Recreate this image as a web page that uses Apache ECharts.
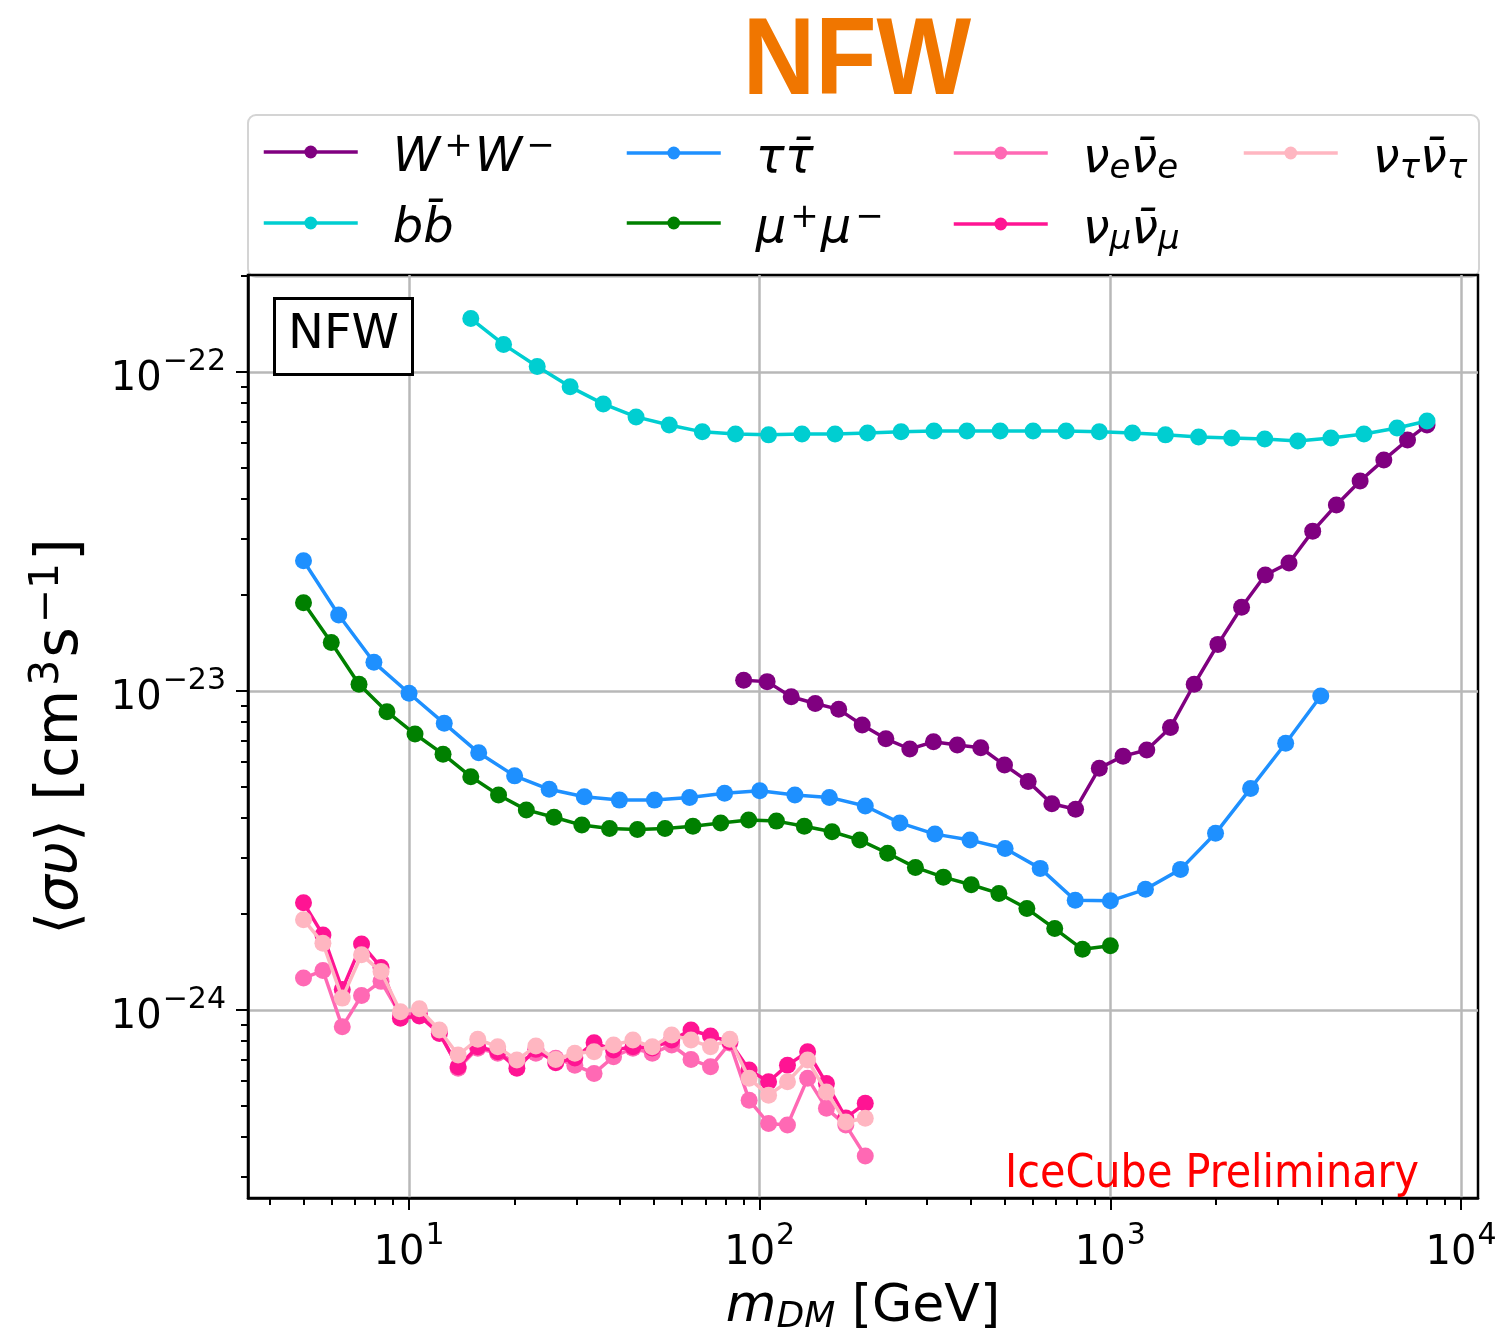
<!DOCTYPE html>
<html>
<head>
<meta charset="utf-8">
<title>NFW</title>
<script src="https://cdn.jsdelivr.net/npm/echarts@6/dist/echarts.min.js"></script>
<style>
  html, body { margin: 0; padding: 0; background: #fff; }
  #chart { width: 1496px; height: 1332px; }
</style>
</head>
<body>
<div id="chart"></div>
<script>
// dark matter masses (GeV) for each channel
const massWW = [90, 105, 123, 144, 168, 196, 229, 268, 313, 366, 427, 499, 583, 681, 796, 930, 1087, 1270, 1484, 1734, 2026, 2367, 2766, 3232, 3776, 4412, 5155, 6024, 7038, 8000];
const massBB = [15, 18.6, 23.2, 28.8, 35.8, 44.4, 55.2, 68.6, 85.3, 106, 132, 164, 203, 253, 314, 390, 485, 602, 748, 930, 1156, 1436, 1785, 2218, 2756, 3424, 4255, 5287, 6570, 8000];
const massTau = [5, 6.3, 7.94, 10, 12.6, 15.8, 20, 25.1, 31.6, 39.8, 50.1, 63.1, 79.4, 100, 126, 158, 200, 251, 316, 398, 501, 631, 794, 1000, 1259, 1585, 1995, 2512, 3162, 3981];
const massMu = [5, 6.0, 7.2, 8.65, 10.4, 12.5, 15.0, 18.0, 21.6, 25.9, 31.1, 37.3, 44.8, 53.7, 64.5, 77.4, 93.0, 111.6, 134, 160.8, 193, 231.7, 278, 334, 401, 481, 578, 694, 833, 1000];
const massNu = [5, 5.68, 6.45, 7.32, 8.32, 9.45, 10.7, 12.2, 13.8, 15.7, 17.9, 20.3, 23.0, 26.2, 29.7, 33.7, 38.3, 43.5, 49.4, 56.1, 63.7, 72.4, 82.2, 93.3, 106, 120, 137, 155, 176, 200];

// <sigma v> upper limits, in units of 1e-24 cm^3 s^-1
// (echarts' log axis rounds tick values to 10 decimals, so raw 1e-24 values lose their ticks)
const svWW = [10.8, 10.7, 9.59, 9.14, 8.76, 7.82, 7.08, 6.58, 6.93, 6.77, 6.64, 5.86, 5.20, 4.43, 4.26, 5.73, 6.25, 6.53, 7.69, 10.5, 14.0, 18.3, 23.1, 25.2, 31.7, 38.3, 45.5, 53.0, 61.2, 68.2];
const svBB = [147, 122, 104, 89.8, 79.4, 72.3, 68.2, 64.9, 63.9, 63.5, 63.9, 63.9, 64.4, 64.9, 65.3, 65.3, 65.3, 65.3, 65.3, 64.9, 64.4, 63.5, 62.5, 62.1, 61.6, 60.8, 62.1, 63.9, 66.7, 70.2];
const svTau = [25.6, 17.3, 12.3, 9.84, 7.92, 6.40, 5.42, 4.92, 4.66, 4.55, 4.55, 4.64, 4.78, 4.87, 4.72, 4.64, 4.36, 3.86, 3.56, 3.41, 3.21, 2.78, 2.21, 2.20, 2.39, 2.76, 3.58, 4.95, 6.86, 9.65];
const svMu = [18.9, 14.2, 10.5, 8.61, 7.33, 6.34, 5.39, 4.72, 4.24, 4.02, 3.80, 3.71, 3.68, 3.71, 3.77, 3.86, 3.94, 3.91, 3.77, 3.62, 3.41, 3.10, 2.80, 2.61, 2.47, 2.32, 2.08, 1.80, 1.55, 1.59];
const svNuE = [1.26, 1.33, 0.886, 1.11, 1.23, 0.965, 0.977, 0.855, 0.657, 0.759, 0.732, 0.684, 0.732, 0.706, 0.672, 0.633, 0.714, 0.759, 0.732, 0.777, 0.700, 0.664, 0.788, 0.522, 0.441, 0.436, 0.611, 0.492, 0.436, 0.349];
const svNuMu = [2.17, 1.72, 1.16, 1.61, 1.36, 0.942, 0.958, 0.845, 0.664, 0.767, 0.740, 0.657, 0.753, 0.684, 0.707, 0.790, 0.749, 0.767, 0.760, 0.805, 0.866, 0.829, 0.796, 0.649, 0.596, 0.672, 0.740, 0.589, 0.459, 0.510];
const svNuTau = [1.92, 1.62, 1.09, 1.49, 1.32, 0.988, 1.01, 0.866, 0.723, 0.810, 0.767, 0.697, 0.771, 0.700, 0.732, 0.740, 0.777, 0.805, 0.767, 0.835, 0.805, 0.767, 0.810, 0.611, 0.541, 0.596, 0.697, 0.554, 0.446, 0.458];
const Y_EXP = -24; // exponent of the unit above

// axis ticks
const xMajor = [10, 100, 1000, 10000];
const xMinor = [4, 5, 6, 7, 8, 9, 20, 30, 40, 50, 60, 70, 80, 90, 200, 300, 400, 500, 600, 700, 800, 900, 2000, 3000, 4000, 5000, 6000, 7000, 8000, 9000];
const yMajor = [1, 10, 100];
const yMinor = [0.3, 0.4, 0.5, 0.6, 0.7, 0.8, 0.9, 2, 3, 4, 5, 6, 7, 8, 9, 20, 30, 40, 50, 60, 70, 80, 90, 200];

const channels = ['WW', 'bb', 'tautau', 'mumu', 'nue', 'numu', 'nutau'];
const channelLabels = {
    WW: '{it|W}{sup|+}{it|W}{sup|\u2212}',
    bb: '{it|bb\u0304}',
    tautau: '{it|\u03c4\u03c4\u0304}',
    mumu: '{it|\u03bc}{sup|+}{it|\u03bc}{sup|\u2212}',
    nue: '{it|\u03bd}{sub|e}{it|\u03bd\u0304}{sub|e}',
    numu: '{it|\u03bd}{sub|\u03bc}{it|\u03bd\u0304}{sub|\u03bc}',
    nutau: '{it|\u03bd}{sub|\u03c4}{it|\u03bd\u0304}{sub|\u03c4}'
};
const colors = ['#800080', '#00ced1', '#1e90ff', '#008000', '#ff69b4', '#ff1493', '#ffb6c1'];
const masses = [massWW, massBB, massTau, massMu, massNu, massNu, massNu];
const limits = [svWW, svBB, svTau, svMu, svNuE, svNuMu, svNuTau];

const FONT = "'DejaVu Sans', 'Noto Sans', sans-serif";

function pow10Label(shift) {
    return function (v) {
        const e = Math.round(Math.log10(v)) + shift;
        return '{b|10}{s|' + (e < 0 ? '\u2212' + (-e) : e) + '}';
    };
}

// rich styles for mathtext-like labels at a given base size
function mathRich(size) {
    const small = Math.round(size * 0.7);
    return {
        it: { fontFamily: FONT, fontStyle: 'italic', fontSize: size, lineHeight: Math.round(size * 1.35), color: '#000' },
        sup: { fontFamily: FONT, fontSize: small, color: '#000', padding: [0, 2, Math.round(size * 0.5), 4] },
        sub: { fontFamily: FONT, fontStyle: 'italic', fontSize: small, color: '#000', padding: [Math.round(size * 0.4), 0, 0, 0] }
    };
}

const tickRich = {
    b: { fontFamily: FONT, fontSize: 40, color: '#000', padding: [16, 0, 0, 0] },
    s: { fontFamily: FONT, fontSize: 30, color: '#000', padding: [0, 0, 20, 1] }
};

// one small legend per entry so the columns fill like matplotlib (column-major);
// the second number is the legend top, tuned so the icons sit on rows y=153 / y=224
const legendAt = [[262, 130], [262, 206], [625, 136], [625, 201], [952, 136], [952, 207], [1242, 136]];
const legends = channels.map((name, i) => ({
    data: [name],
    left: legendAt[i][0],
    top: legendAt[i][1],
    padding: 0,
    itemWidth: 94,
    itemHeight: 16,
    selectedMode: false,
    lineStyle: { width: 3.5 },
    formatter: n => channelLabels[n],
    textStyle: { rich: mathRich(48), padding: [14, 0, 0, 30] }
}));

const series = channels.map((name, i) => ({
    name: name,
    type: 'line',
    data: masses[i].map((m, k) => [m, limits[i][k]]),
    symbol: 'circle',
    symbolSize: 17,
    showSymbol: true,
    color: colors[i],
    lineStyle: { width: 3.5, color: colors[i] },
    itemStyle: { color: colors[i] },
    animation: false,
    z: 3 + i
}));

const minorTick = { show: true, length: 7, lineStyle: { color: '#000', width: 2 } };

const chart = echarts.init(document.getElementById('chart'));
chart.setOption({
    backgroundColor: '#fff',
    animation: false,
    title: [{
        text: 'NFW',
        left: 274,
        top: 298,
        padding: [14, 14, 15, 14],
        borderColor: '#000',
        borderWidth: 3,
        backgroundColor: '#fff',
        textStyle: { fontFamily: FONT, fontWeight: 'normal', fontSize: 48, color: '#000' }
    }, {
        text: 'IceCube Preliminary',
        right: 72,
        top: 1147,
        textStyle: { fontFamily: "'DejaVu Sans Condensed', 'Liberation Sans Narrow', 'DejaVu Sans', sans-serif", fontWeight: 'normal', fontSize: 46, color: '#ff0000' }
    }],
    graphic: [{
        // big orange heading, slightly narrowed like the original
        type: 'text',
        x: 857,
        y: 64,
        scaleX: 0.92,
        style: {
            text: 'NFW',
            fill: '#f07600',
            font: "bold 109px 'Liberation Sans', Arial, sans-serif",
            align: 'center',
            verticalAlign: 'middle'
        }
    }, {
        type: 'rect',
        z: -1,
        shape: { x: 248, y: 115, width: 1231, height: 162, r: 8 },
        style: { fill: '#fff', stroke: '#d4d4d4', lineWidth: 2 }
    }],
    legend: legends,
    grid: {
        left: 248, right: 18, top: 275, bottom: 134,
        outerBoundsMode: 'none',
        containLabel: false,
        show: true, borderColor: '#000', borderWidth: 2.5
    },
    xAxis: [{
        type: 'log',
        min: 3.473, max: 11180,
        name: '{it|m}{sub|DM} [GeV]',
        nameLocation: 'middle',
        nameGap: 74,
        nameTextStyle: { fontFamily: FONT, fontSize: 52, color: '#000', rich: mathRich(52) },
        axisLine: { show: true, lineStyle: { color: '#000', width: 2.5 } },
        axisTick: { show: true, length: 12, lineStyle: { color: '#000', width: 2 }, customValues: xMajor },
        axisLabel: { margin: 20, formatter: pow10Label(0), rich: tickRich, customValues: xMajor },
        splitLine: { show: true, lineStyle: { color: '#b8b8b8', width: 2.5 } }
    }, {
        type: 'log',
        position: 'bottom',
        min: 3.473, max: 11180,
        axisLine: { show: false },
        axisLabel: { show: false },
        splitLine: { show: false },
        axisTick: Object.assign({ customValues: xMinor }, minorTick)
    }],
    yAxis: [{
        type: 'log',
        min: 0.2576, max: 201.3,
        name: '\u27e8{it|\u03c3\u03c5}\u27e9 [cm{sup|3}s{sup|\u22121}]',
        nameLocation: 'middle',
        nameGap: 147,
        nameTextStyle: { fontFamily: FONT, fontSize: 58, color: '#000', rich: mathRich(58) },
        axisLine: { show: true, lineStyle: { color: '#000', width: 2.5 } },
        axisTick: { show: true, length: 12, lineStyle: { color: '#000', width: 2 }, customValues: yMajor },
        axisLabel: { margin: 22, formatter: pow10Label(Y_EXP), rich: tickRich, customValues: yMajor },
        splitLine: { show: true, lineStyle: { color: '#b8b8b8', width: 2.5 } }
    }, {
        type: 'log',
        position: 'left',
        min: 0.2576, max: 201.3,
        axisLine: { show: false },
        axisLabel: { show: false },
        splitLine: { show: false },
        axisTick: Object.assign({ customValues: yMinor }, minorTick)
    }],
    series: series
});
</script>
</body>
</html>
